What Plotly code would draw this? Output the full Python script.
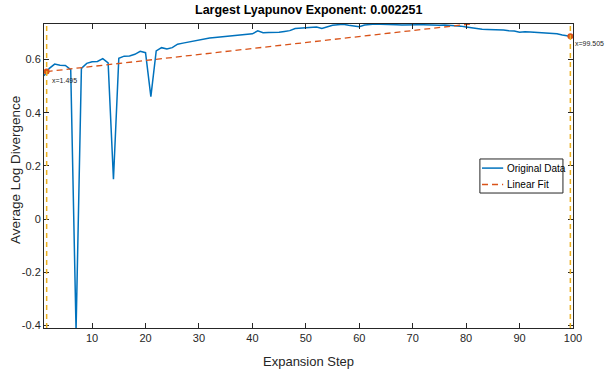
import plotly.graph_objects as go

# ---- data ----
steps = list(range(1, 101))
avg_log_div = [
    0.539, 0.567, 0.583, 0.579, 0.578, 0.562, -0.42, 0.567, 0.586, 0.592,
    0.593, 0.604, 0.588, 0.150, 0.605, 0.613, 0.614, 0.620, 0.631, 0.626,
    0.461, 0.633, 0.645, 0.640, 0.645, 0.658, 0.662, 0.666, 0.670, 0.675,
    0.678, 0.681, 0.683, 0.685, 0.687, 0.689, 0.692, 0.694, 0.695, 0.697,
    0.708, 0.701, 0.702, 0.702, 0.703, 0.706, 0.709, 0.717, 0.718, 0.719,
    0.720, 0.723, 0.717, 0.724, 0.729, 0.731, 0.733, 0.729, 0.726, 0.724,
    0.730, 0.733, 0.734, 0.733, 0.733, 0.732, 0.731, 0.730, 0.731, 0.732,
    0.731, 0.731, 0.730, 0.731, 0.729, 0.730, 0.729, 0.727, 0.726, 0.723,
    0.720, 0.715, 0.714, 0.713, 0.713, 0.712, 0.711, 0.709, 0.708, 0.703,
    0.705, 0.704, 0.703, 0.702, 0.700, 0.699, 0.697, 0.693, 0.689, 0.686,
]
fit_x = [1.495, 99.505]
fit_y = [0.555, 0.776]
mark_x = [1.495, 99.505]
mark_y = [0.555, 0.688]
mark_labels = ["x=1.495", "x=99.505"]
series_names = ["Original Data", "Linear Fit"]
title_text = "Largest Lyapunov Exponent: 0.002251"
x_ticks = [10, 20, 30, 40, 50, 60, 70, 80, 90, 100]
y_ticks = [-0.4, -0.2, 0, 0.2, 0.4, 0.6]
y_tick_text = ["-0.4", "-0.2", "0", "0.2", "0.4", "0.6"]
x_range = [1, 100]
y_range = [-0.41, 0.734]

BLUE = "#0072BD"
ORANGE = "#D95319"
YELLOW = "#EDB120"
AX = "#262626"
FONT = "Liberation Sans, Arial, sans-serif"
FIT_DASH = "6px,4px"

fig = go.Figure()
fig.add_trace(go.Scatter(x=steps, y=avg_log_div, mode="lines", name=series_names[0],
                         showlegend=False, line=dict(color=BLUE, width=1.5)))
fig.add_trace(go.Scatter(x=fit_x, y=fit_y, mode="lines", name=series_names[1],
                         showlegend=False, line=dict(color=ORANGE, width=1.3, dash=FIT_DASH)))
for xv in mark_x:
    fig.add_vline(x=xv, line=dict(color=YELLOW, width=1.5, dash="5px,4px"))
fig.add_trace(go.Scatter(x=mark_x, y=mark_y, mode="markers", showlegend=False,
                         marker=dict(color=ORANGE, size=6), cliponaxis=False))

fig.add_annotation(x=mark_x[0], y=mark_y[0], text=mark_labels[0], showarrow=False,
                   xanchor="left", yanchor="top", xshift=3, yshift=-3,
                   font=dict(family=FONT, size=7, color=AX))
fig.add_annotation(x=mark_x[1], y=mark_y[1], text=mark_labels[1], showarrow=False,
                   xanchor="left", yanchor="top", xshift=3, yshift=-2,
                   font=dict(family=FONT, size=7, color=AX))

# title and axis labels
fig.add_annotation(x=0.5, y=1, xref="paper", yref="paper", yshift=14, text="<b>" + title_text + "</b>",
                   showarrow=False, xanchor="center", yanchor="middle",
                   font=dict(family=FONT, size=12.5, color="#000000"))
fig.add_annotation(x=0.5, y=0, xref="paper", yref="paper", yshift=-33, text="Expansion Step",
                   showarrow=False, xanchor="center", yanchor="middle",
                   font=dict(family=FONT, size=13, color=AX))
fig.add_annotation(x=0, y=0.5, xref="paper", yref="paper", xshift=-29, yshift=6,
                   text="Average Log Divergence", textangle=-90,
                   showarrow=False, xanchor="center", yanchor="middle",
                   font=dict(family=FONT, size=13.5, color=AX))

# legend box (MATLAB-style compact legend)
lg_x0, lg_x1, lg_y0, lg_y1 = 0.824, 0.981, 0.444, 0.556
lg_rows = [0.526, 0.472]
lg_styles = [dict(color=BLUE, width=1.5), dict(color=ORANGE, width=1.3, dash=FIT_DASH)]
fig.add_shape(type="rect", xref="paper", yref="paper", x0=lg_x0, x1=lg_x1, y0=lg_y0, y1=lg_y1,
              line=dict(color=AX, width=1), fillcolor="white", layer="above")
for name, ry, st in zip(series_names, lg_rows, lg_styles):
    fig.add_shape(type="line", xref="paper", yref="paper", x0=lg_x0 + 0.004, x1=lg_x0 + 0.044,
                  y0=ry, y1=ry, line=st, layer="above")
    fig.add_annotation(x=lg_x0 + 0.048, y=ry, xref="paper", yref="paper", text=name,
                       showarrow=False, xanchor="left", yanchor="middle",
                       font=dict(family=FONT, size=10, color="#000000"))

axis_common = dict(showline=True, linecolor=AX, linewidth=1, mirror="ticks",
                   ticks="inside", ticklen=5, tickcolor=AX, tickwidth=1,
                   showgrid=False, zeroline=False,
                   tickfont=dict(family=FONT, size=11, color=AX))
fig.update_xaxes(range=x_range, tickvals=x_ticks, **axis_common)
fig.update_yaxes(range=y_range, tickvals=y_ticks, ticktext=y_tick_text, **axis_common)

fig.update_layout(
    width=605, height=370,
    margin=dict(l=44, r=32, t=24, b=42),
    plot_bgcolor="white", paper_bgcolor="white",
    showlegend=False,
)

fig.write_html("out.html")
